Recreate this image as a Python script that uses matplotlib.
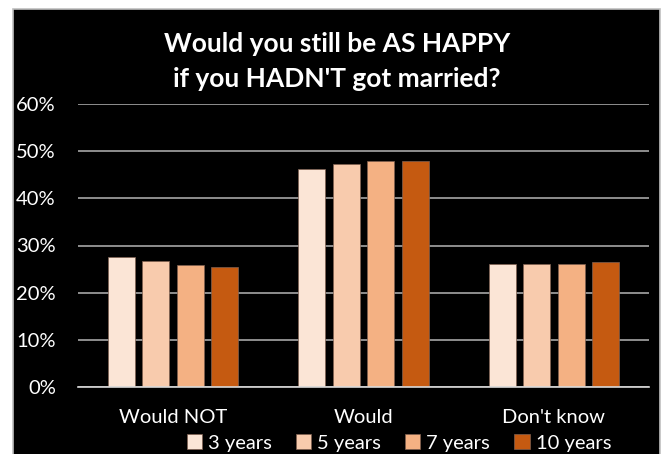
import matplotlib
matplotlib.use("Agg")
import matplotlib.pyplot as plt
import numpy as np
from matplotlib.patches import Rectangle

# data
categories = ["Would NOT", "Would", "Don't know"]
series_names = ["3 years", "5 years", "7 years", "10 years"]
values = [
    [27.6, 46.3, 26.1],   # 3 years
    [26.8, 47.3, 26.0],   # 5 years
    [25.9, 47.9, 26.0],   # 7 years
    [25.5, 47.9, 26.5],   # 10 years
]
colors = ["#FBE5D6", "#F8CBAD", "#F4B183", "#C55A11"]
yticks = [0, 10, 20, 30, 40, 50, 60]

plt.rcParams["font.family"] = ["Lato", "DejaVu Sans"]

W, H = 663, 454
fig = plt.figure(figsize=(W / 100, H / 100), dpi=100, facecolor="white")

# black chart area with thin grey frame
fig.patches.append(Rectangle((13 / W, -0.01), (660 - 13) / W, (H - 9) / H + 0.01,
                             transform=fig.transFigure, facecolor="black",
                             edgecolor="#bfbfbf", linewidth=1.2, zorder=-5))

ax = fig.add_axes([78 / W, 1 - 387 / H, (649 - 78) / W, (387 - 104) / H])
ax.set_facecolor("black")

x = np.arange(len(categories))
bw = 0.142
step = 0.181
for i, (name, vals, c) in enumerate(zip(series_names, values, colors)):
    offs = (i - 1.5) * step
    ax.bar(x + offs, vals, width=bw, color=c, edgecolor="#7f6050",
           linewidth=0.5, label=name, zorder=3)

ax.set_xlim(-0.5, 2.5)
ax.set_ylim(0, 60)
ax.set_yticks(yticks)
ax.set_yticklabels([f"{t}%" for t in yticks], color="white", fontsize=14.5)
ax.set_xticks(x)
ax.set_xticklabels(categories, color="white", fontsize=14.5)
ax.tick_params(axis="both", length=0)
ax.tick_params(axis="y", pad=16)
ax.tick_params(axis="x", pad=16)
ax.yaxis.grid(True, color="#a6a6a6", linewidth=1.2, zorder=0)
ax.set_axisbelow(True)
for s in ["top", "right", "left"]:
    ax.spines[s].set_visible(False)
ax.spines["bottom"].set_color("#d9d9d9")
ax.spines["bottom"].set_linewidth(1.2)
ax.spines["bottom"].set_zorder(4)

fig.text(337 / W, 1 - 44 / H, "Would you still be AS HAPPY", color="white",
         fontsize=19, fontweight="bold", ha="center", va="center")
fig.text(337 / W, 1 - 79 / H, "if you HADN'T got married?", color="white",
         fontsize=19, fontweight="bold", ha="center", va="center")

leg = fig.legend(loc="center", bbox_to_anchor=(399 / W, 1 - 443 / H), ncol=4,
                 frameon=False, fontsize=14.5, labelcolor="white",
                 handlelength=0.75, handleheight=0.75, handletextpad=0.3,
                 columnspacing=1.2)

fig.savefig("out.png", dpi=100, facecolor="white")
